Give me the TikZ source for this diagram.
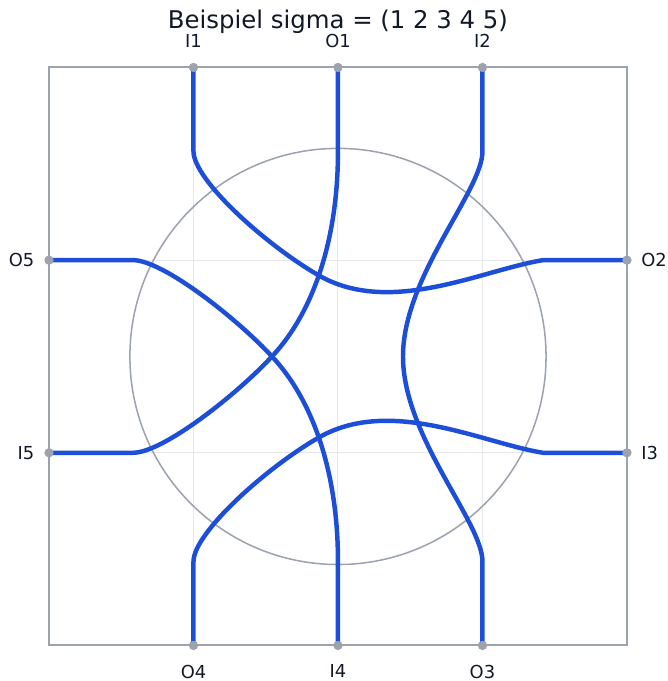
\documentclass[tikz,border=0pt]{standalone}
\usepackage{fontspec}
\setmainfont{DejaVu Sans}
\usetikzlibrary{positioning}

\definecolor{strandblue}{HTML}{1D4ED8}
\definecolor{framegray}{HTML}{9CA3AF}
\definecolor{gridgray}{HTML}{E5E7EB}
\definecolor{textdark}{HTML}{111827}

\pgfdeclarelayer{background}
\pgfsetlayers{background,main}

\tikzset{
    port/.style={circle, fill=framegray, minimum size=4.6pt, inner sep=0pt},
    portlabel/.style={font=\fontsize{8.8}{10.5}\selectfont, text=textdark},
    gridline/.style={draw=gridgray, line width=0.5pt},
    strand/.style={draw=strandblue, line width=2.2pt}
}

\begin{document}
\begin{tikzpicture}[x=2.5cm, y=2.5cm]
    \useasboundingbox (-2.339, -2.246) rectangle (2.284, 2.467);

    \node [font=\fontsize{12}{14}\selectfont, text=textdark] (title) at (0, 2.315) {Beispiel sigma = (1 2 3 4 5)};

    % ports on the frame
    \node [port] (I1) at (-1, 2) {};
    \node [port] (O1) at (0, 2) {};
    \node [port] (I2) at (1, 2) {};
    \node [port] (O2) at (2, 2/3) {};
    \node [port] (I3) at (2, -2/3) {};
    \node [port] (O3) at (1, -2) {};
    \node [port] (I4) at (0, -2) {};
    \node [port] (O4) at (-1, -2) {};
    \node [port] (I5) at (-2, -2/3) {};
    \node [port] (O5) at (-2, 2/3) {};

    \node [portlabel, above=3.8pt of I1] (I1lbl) {I1};
    \node [portlabel, above=3.8pt of O1] (O1lbl) {O1};
    \node [portlabel, above=3.8pt of I2] (I2lbl) {I2};
    \node [portlabel, right=1pt of O2] (O2lbl) {O2};
    \node [portlabel, right=1pt of I3] (I3lbl) {I3};
    \node [portlabel, below=3.5pt of O3] (O3lbl) {O3};
    \node [portlabel, below=3.5pt of I4] (I4lbl) {I4};
    \node [portlabel, below=3.5pt of O4] (O4lbl) {O4};
    \node [portlabel, left=1.2pt of I5] (I5lbl) {I5};
    \node [portlabel, left=1.2pt of O5] (O5lbl) {O5};

    % where the straight parts end
    \coordinate (I1e) at (-1, 1.42);
    \coordinate (O1e) at (0, 1.42);
    \coordinate (I2e) at (1, 1.42);
    \coordinate (O2e) at (1.42, 2/3);
    \coordinate (I3e) at (1.42, -2/3);
    \coordinate (O3e) at (1, -1.42);
    \coordinate (I4e) at (0, -1.42);
    \coordinate (O4e) at (-1, -1.42);
    \coordinate (I5e) at (-1.42, -2/3);
    \coordinate (O5e) at (-1.42, 2/3);

    \begin{pgfonlayer}{background}
        \foreach \x in {-1, 0, 1}
            \draw [gridline] (\x, -2) -- (\x, 2);
        \foreach \y in {-2/3, 2/3}
            \draw [gridline] (-2, \y) -- (2, \y);
        \draw [framegray, line width=0.75pt] (0, 0) circle (1.44);
        \draw [framegray, line width=1pt] (-2, -2) rectangle (2, 2);

        % sigma = (1 2 3 4 5)
        \draw [strand] (I1.center) -- (I1e) .. controls (-1, 1.221) and (-0.498, 0.772) .. (-0.138, 0.564)
            .. controls (0.360, 0.273) and (1.0, 0.60) .. (O2e) -- (O2.center);
        \draw [strand] (I2.center) -- (I2e) .. controls (1, 1.145) and (0.45, 0.554) .. (0.45, 0)
            .. controls (0.45, -0.554) and (1, -1.145) .. (O3e) -- (O3.center);
        \draw [strand] (I3.center) -- (I3e) .. controls (1.0, -0.60) and (0.360, -0.273) .. (-0.138, -0.564)
            .. controls (-0.498, -0.772) and (-1, -1.221) .. (O4e) -- (O4.center);
        \draw [strand] (I4.center) -- (I4e) .. controls (0, -0.806) and (-0.173, -0.301) .. (-0.457, 0)
            .. controls (-0.692, 0.256) and (-1.211, 0.668) .. (O5e) -- (O5.center);
        \draw [strand] (I5.center) -- (I5e) .. controls (-1.211, -0.668) and (-0.692, -0.256) .. (-0.457, 0)
            .. controls (-0.173, 0.301) and (0, 0.806) .. (O1e) -- (O1.center);
    \end{pgfonlayer}
\end{tikzpicture}
\end{document}
